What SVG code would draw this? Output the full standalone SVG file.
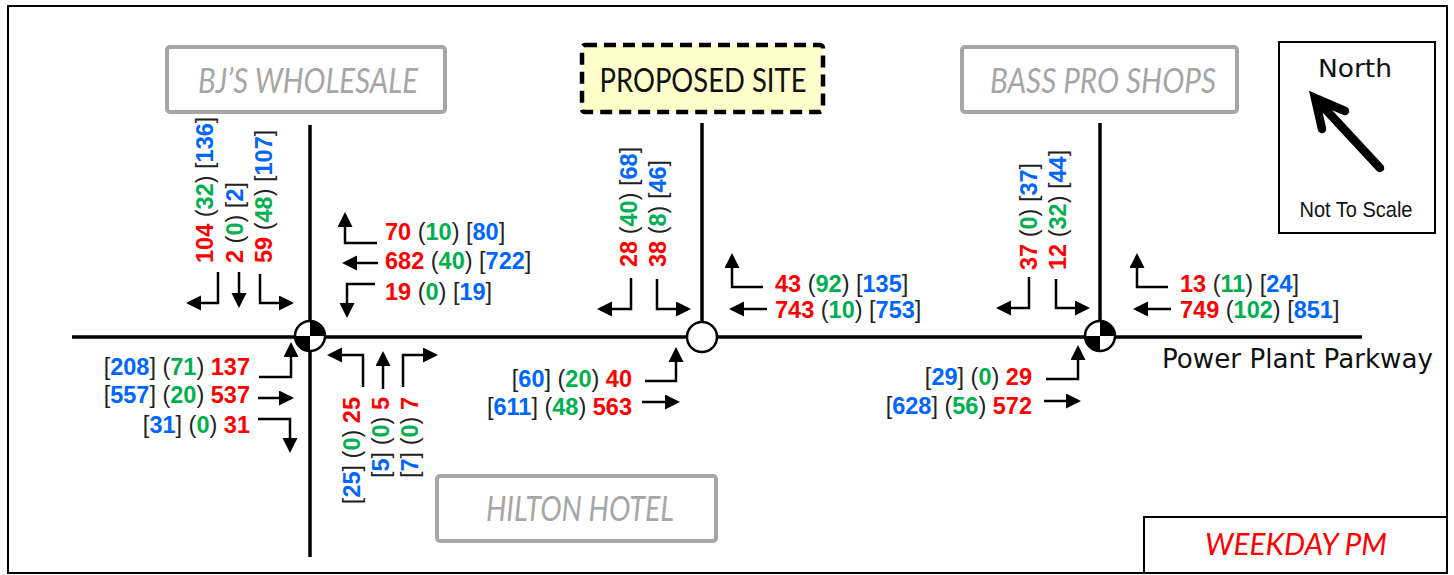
<svg xmlns="http://www.w3.org/2000/svg" width="1454" height="575" viewBox="0 0 1454 575">
<style>
.vol{font-family:"Liberation Sans",Arial,sans-serif;font-size:23.5px}
.r{fill:#ff0000;font-weight:bold}
.g{fill:#00b050;font-weight:bold}
.b{fill:#0066ff;font-weight:bold}
.k{fill:#222}
.arr{fill:none;stroke:#000;stroke-width:2.5;marker-end:url(#ah)}
.road{stroke:#000;stroke-width:3.5;fill:none}
.bld rect{fill:#fff;stroke:#a6a6a6;stroke-width:4}
.bld text{font-family:Lato,"Open Sans",sans-serif;font-style:italic;fill:#a6a6a6;font-size:34px;text-anchor:middle}
</style>
<defs>
<marker id="ah" markerUnits="userSpaceOnUse" markerWidth="16" markerHeight="16" refX="12" refY="7.5" orient="auto">
<path d="M0,0 L15,7.5 L0,15 z" fill="#000"/>
</marker>
</defs>
<rect x="0" y="0" width="1454" height="575" fill="#fff"/>
<rect x="8" y="6" width="1439" height="567" fill="none" stroke="#000" stroke-width="2"/>

<g id="connectors">
<line class="road" x1="72" y1="337" x2="1362" y2="337" stroke-width="4"/>
<line class="road" x1="310" y1="125" x2="310" y2="557"/>
<line class="road" x1="702" y1="123" x2="702" y2="322"/>
<line class="road" x1="1100" y1="123" x2="1100" y2="337"/>
<path class="arr" d="M218,272 V303 H189"/>
<path class="arr" d="M239,272 V305"/>
<path class="arr" d="M260,274 V303 H291"/>
<path class="arr" d="M377,243 H345 V215"/>
<path class="arr" d="M378,263 H345"/>
<path class="arr" d="M375,284 H347 V315"/>
<path class="arr" d="M259,377 H291 V345"/>
<path class="arr" d="M258,398 H291"/>
<path class="arr" d="M258,419 H290 V450"/>
<path class="arr" d="M363,387 V355 H330"/>
<path class="arr" d="M383,389 V354"/>
<path class="arr" d="M403,387 V355 H435"/>
<path class="arr" d="M631,278 V309 H600"/>
<path class="arr" d="M657,279 V309 H688"/>
<path class="arr" d="M763,287 H732 V256"/>
<path class="arr" d="M767,309 H732"/>
<path class="arr" d="M645,381 H676 V350"/>
<path class="arr" d="M642,402 H677"/>
<path class="arr" d="M1029,277 V308 H999"/>
<path class="arr" d="M1056,279 V308 H1087"/>
<path class="arr" d="M1168,287 H1137 V256"/>
<path class="arr" d="M1171,309 H1136"/>
<path class="arr" d="M1046,379 H1078 V348"/>
<path class="arr" d="M1044,401 H1078"/>
</g>

<g id="int-left">
<circle cx="310" cy="336" r="15" fill="#fff"/>
<path d="M310,336 L310,321 A15,15 0 0 1 325,336 Z M310,336 L310,351 A15,15 0 0 1 295,336 Z" fill="#000"/>
<circle cx="310" cy="336" r="15" fill="none" stroke="#000" stroke-width="2.5"/>
</g>
<g id="int-mid">
<circle cx="702" cy="337" r="15" fill="#fff" stroke="#000" stroke-width="2.5"/>
</g>
<g id="int-right">
<circle cx="1100" cy="336" r="15" fill="#fff"/>
<path d="M1100,336 L1100,321 A15,15 0 0 1 1115,336 Z M1100,336 L1100,351 A15,15 0 0 1 1085,336 Z" fill="#000"/>
<circle cx="1100" cy="336" r="15" fill="none" stroke="#000" stroke-width="2.5"/>
</g>

<g id="bjs" class="bld">
<rect x="167" y="47" width="278" height="65" rx="3"/>
<text x="308" y="93" textLength="220" lengthAdjust="spacingAndGlyphs">BJ’S WHOLESALE</text>
</g>
<g id="basspro" class="bld">
<rect x="962" y="47" width="275" height="65" rx="3"/>
<text x="1103" y="93" textLength="226" lengthAdjust="spacingAndGlyphs">BASS PRO SHOPS</text>
</g>
<g id="hilton" class="bld">
<rect x="437" y="476" width="279" height="65" rx="3"/>
<text x="580" y="521" textLength="188" lengthAdjust="spacingAndGlyphs">HILTON HOTEL</text>
</g>
<g id="proposed">
<rect x="582" y="45" width="241" height="67" rx="3" fill="#ffffcc" stroke="#000" stroke-width="4.5" stroke-dasharray="12,7"/>
<text x="703" y="92" text-anchor="middle" font-family="Lato,'Open Sans',sans-serif" font-size="33" fill="#111" textLength="207" lengthAdjust="spacingAndGlyphs">PROPOSED SITE</text>
</g>

<g id="north">
<rect x="1279" y="42" width="156" height="191" fill="#fff" stroke="#000" stroke-width="2"/>
<text x="1355" y="77" text-anchor="middle" font-family="'DejaVu Sans',sans-serif" font-size="25" fill="#111" textLength="74" lengthAdjust="spacingAndGlyphs">North</text>
<path d="M1380,168 L1315,98 M1345,111 L1315,98 L1322,129" fill="none" stroke="#000" stroke-width="8.5" stroke-linecap="round" stroke-linejoin="miter"/>
<text x="1356" y="217" text-anchor="middle" font-family="'Liberation Sans',Arial,sans-serif" font-size="22" fill="#111" textLength="113" lengthAdjust="spacingAndGlyphs">Not To Scale</text>
</g>

<g id="road-label">
<text x="1162" y="368" font-family="'DejaVu Sans',sans-serif" font-size="26" fill="#111" textLength="271" lengthAdjust="spacingAndGlyphs">Power Plant Parkway</text>
</g>

<g id="weekday">
<rect x="1144" y="517" width="303" height="56" fill="#fff" stroke="#000" stroke-width="2"/>
<text x="1296" y="555" text-anchor="middle" font-family="Lato,'Open Sans',sans-serif" font-style="italic" font-size="30" fill="#ff0000" textLength="182" lengthAdjust="spacingAndGlyphs">WEEKDAY PM</text>
</g>

<g id="volumes" class="vol">
<text transform="translate(213,263) rotate(-90)"><tspan class="r">104</tspan><tspan class="k"> (</tspan><tspan class="g">32</tspan><tspan class="k">) [</tspan><tspan class="b">136</tspan><tspan class="k">]</tspan></text>
<text transform="translate(243,263) rotate(-90)"><tspan class="r">2</tspan><tspan class="k"> (</tspan><tspan class="g">0</tspan><tspan class="k">) [</tspan><tspan class="b">2</tspan><tspan class="k">]</tspan></text>
<text transform="translate(272,263) rotate(-90)"><tspan class="r">59</tspan><tspan class="k"> (</tspan><tspan class="g">48</tspan><tspan class="k">) [</tspan><tspan class="b">107</tspan><tspan class="k">]</tspan></text>

<text x="385" y="240"><tspan class="r">70</tspan><tspan class="k"> (</tspan><tspan class="g">10</tspan><tspan class="k">) [</tspan><tspan class="b">80</tspan><tspan class="k">]</tspan></text>
<text x="385" y="269"><tspan class="r">682</tspan><tspan class="k"> (</tspan><tspan class="g">40</tspan><tspan class="k">) [</tspan><tspan class="b">722</tspan><tspan class="k">]</tspan></text>
<text x="385" y="300"><tspan class="r">19</tspan><tspan class="k"> (</tspan><tspan class="g">0</tspan><tspan class="k">) [</tspan><tspan class="b">19</tspan><tspan class="k">]</tspan></text>

<text x="250" y="375" text-anchor="end"><tspan class="k">[</tspan><tspan class="b">208</tspan><tspan class="k">] (</tspan><tspan class="g">71</tspan><tspan class="k">) </tspan><tspan class="r">137</tspan></text>
<text x="250" y="403" text-anchor="end"><tspan class="k">[</tspan><tspan class="b">557</tspan><tspan class="k">] (</tspan><tspan class="g">20</tspan><tspan class="k">) </tspan><tspan class="r">537</tspan></text>
<text x="250" y="433" text-anchor="end"><tspan class="k">[</tspan><tspan class="b">31</tspan><tspan class="k">] (</tspan><tspan class="g">0</tspan><tspan class="k">) </tspan><tspan class="r">31</tspan></text>

<text transform="translate(360,397) rotate(-90)" text-anchor="end"><tspan class="k">[</tspan><tspan class="b">25</tspan><tspan class="k">] (</tspan><tspan class="g">0</tspan><tspan class="k">) </tspan><tspan class="r">25</tspan></text>
<text transform="translate(389,397) rotate(-90)" text-anchor="end"><tspan class="k">[</tspan><tspan class="b">5</tspan><tspan class="k">] (</tspan><tspan class="g">0</tspan><tspan class="k">) </tspan><tspan class="r">5</tspan></text>
<text transform="translate(418,397) rotate(-90)" text-anchor="end"><tspan class="k">[</tspan><tspan class="b">7</tspan><tspan class="k">] (</tspan><tspan class="g">0</tspan><tspan class="k">) </tspan><tspan class="r">7</tspan></text>

<text transform="translate(637,267) rotate(-90)"><tspan class="r">28</tspan><tspan class="k"> (</tspan><tspan class="g">40</tspan><tspan class="k">) [</tspan><tspan class="b">68</tspan><tspan class="k">]</tspan></text>
<text transform="translate(666,267) rotate(-90)"><tspan class="r">38</tspan><tspan class="k"> (</tspan><tspan class="g">8</tspan><tspan class="k">) [</tspan><tspan class="b">46</tspan><tspan class="k">]</tspan></text>

<text x="775" y="292"><tspan class="r">43</tspan><tspan class="k"> (</tspan><tspan class="g">92</tspan><tspan class="k">) [</tspan><tspan class="b">135</tspan><tspan class="k">]</tspan></text>
<text x="775" y="318"><tspan class="r">743</tspan><tspan class="k"> (</tspan><tspan class="g">10</tspan><tspan class="k">) [</tspan><tspan class="b">753</tspan><tspan class="k">]</tspan></text>

<text x="632" y="387" text-anchor="end"><tspan class="k">[</tspan><tspan class="b">60</tspan><tspan class="k">] (</tspan><tspan class="g">20</tspan><tspan class="k">) </tspan><tspan class="r">40</tspan></text>
<text x="632" y="415" text-anchor="end"><tspan class="k">[</tspan><tspan class="b">611</tspan><tspan class="k">] (</tspan><tspan class="g">48</tspan><tspan class="k">) </tspan><tspan class="r">563</tspan></text>

<text transform="translate(1037,270) rotate(-90)"><tspan class="r">37</tspan><tspan class="k"> (</tspan><tspan class="g">0</tspan><tspan class="k">) [</tspan><tspan class="b">37</tspan><tspan class="k">]</tspan></text>
<text transform="translate(1066,270) rotate(-90)"><tspan class="r">12</tspan><tspan class="k"> (</tspan><tspan class="g">32</tspan><tspan class="k">) [</tspan><tspan class="b">44</tspan><tspan class="k">]</tspan></text>

<text x="1180" y="292"><tspan class="r">13</tspan><tspan class="k"> (</tspan><tspan class="g">11</tspan><tspan class="k">) [</tspan><tspan class="b">24</tspan><tspan class="k">]</tspan></text>
<text x="1180" y="318"><tspan class="r">749</tspan><tspan class="k"> (</tspan><tspan class="g">102</tspan><tspan class="k">) [</tspan><tspan class="b">851</tspan><tspan class="k">]</tspan></text>

<text x="1032" y="385" text-anchor="end"><tspan class="k">[</tspan><tspan class="b">29</tspan><tspan class="k">] (</tspan><tspan class="g">0</tspan><tspan class="k">) </tspan><tspan class="r">29</tspan></text>
<text x="1032" y="414" text-anchor="end"><tspan class="k">[</tspan><tspan class="b">628</tspan><tspan class="k">] (</tspan><tspan class="g">56</tspan><tspan class="k">) </tspan><tspan class="r">572</tspan></text>
</g>
</svg>
